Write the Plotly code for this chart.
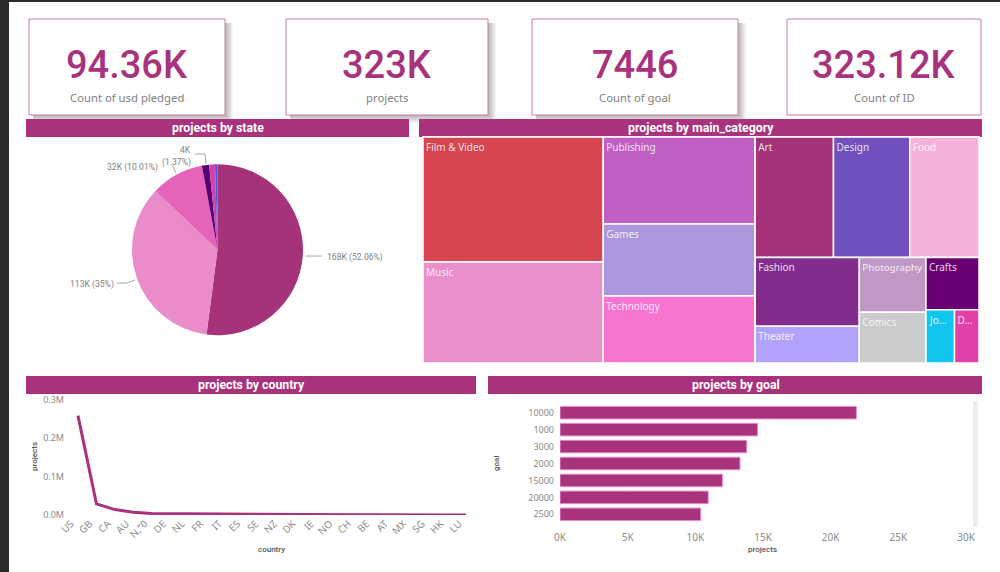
import plotly.graph_objects as go

W, H = 1000, 572
ACCENT = "#a8327c"
GREY = "#7f7f7f"

# ---------- data ----------
card_values = ["94.36K", "323K", "7446", "323.12K"]
card_labels = ["Count of usd pledged", "projects", "Count of goal", "Count of ID"]

states = ["failed", "successful", "canceled", "live", "undefined", "suspended"]
state_values = [168.2, 113.085, 32.34, 4.43, 3.55, 1.5]
state_colors = ["#a63379", "#e98cc9", "#e563b9", "#5a0073", "#d040b0", "#3f5fd0"]

# Treemap: the grouping nodes only fix the arrangement of the tiles
categories = ["Film & Video", "Music", "Publishing", "Games", "Technology", "Art", "Design", "Food",
              "Fashion", "Theater", "Photography", "Comics", "Crafts", "Journalism", "Dance"]
category_parents = ["c1", "c1", "c2", "c2", "c2", "r1", "r1", "r1",
                    "s1", "s1", "s2", "s2", "s3", "p1", "p1"]
category_values = [22375, 18079, 13137, 10872, 10117, 9360, 9120, 8280,
                   7107, 3811, 3630, 3366, 2756, 1512, 1296]
category_text = ["Film & Video", "Music", "Publishing", "Games", "Technology", "Art", "Design", "Food",
                 "Fashion", "Theater", "Photography", "Comics", "Crafts", "Jo...", "D..."]
category_colors = ["#d64550", "#ea8fcb", "#bf5fc4", "#ad97dc", "#f774d0", "#a63379", "#7150bf", "#f4b2da",
                   "#822d8e", "#b3a2fc", "#c197c5", "#cbcbcb", "#690073", "#11c5f0", "#e040a8"]
group_ids = ["c1", "c2", "c3", "r1", "r2", "s1", "s2", "s3", "p1"]
group_parents = ["", "", "", "c3", "c3", "r2", "r2", "r2", "s3"]

countries = ["US", "GB", "CA", "AU", 'N,"0', "DE", "NL", "FR", "IT", "ES", "SE", "NZ", "DK", "IE",
             "NO", "CH", "BE", "AT", "MX", "SG", "HK", "LU"]
country_values = [258000, 29000, 14000, 7200, 3800, 3400, 2400, 2300, 2200, 1900, 1500, 1200, 1000,
                  700, 600, 600, 600, 500, 500, 500, 500, 100]

goals = ["10000", "1000", "3000", "2000", "15000", "20000", "2500"]
goal_values = [21900, 14600, 13800, 13300, 12000, 10950, 10400]

# ---------- layout helpers ----------
def fx(p): return p / W
def fy(p): return 1 - p / H

def rect(x0, y0, x1, y1, fill, line=None, width=0):
    return dict(type="rect", xref="paper", yref="paper", x0=fx(x0), x1=fx(x1), y0=fy(y1), y1=fy(y0),
                fillcolor=fill, line=dict(color=line or fill, width=width), layer="below")

def text(x, y, s, size, color, family="Noto Sans", anchor="center", angle=0, weight=None):
    f = dict(size=size, color=color, family=family)
    if weight:
        f["weight"] = weight
    return dict(xref="paper", yref="paper", x=fx(x), y=fy(y), text=s, showarrow=False, xanchor=anchor,
                yanchor="middle", textangle=angle, font=f)

def leader(points):
    path = "M " + " L ".join(f"{fx(a):.4f},{fy(b):.4f}" for a, b in points)
    return dict(type="path", xref="paper", yref="paper", path=path, line=dict(color="#a9a9a9", width=1))

shapes, notes = [], []

# window frame
shapes += [rect(0, 0, 9, H, "#2b2b2b"), rect(0, 0, W, 2, "#2b2b2b")]

# KPI cards
cards = [(29, 225, True), (286, 488, True), (532, 738, True), (787, 981, False)]
for (x0, x1, shadow), val, lab in zip(cards, card_values, card_labels):
    if shadow:
        for off in range(1, 9):
            shapes.append(rect(x0 + 4, 23, x1 + off, 115 + off, "rgba(70,70,70,0.055)"))
    shapes.append(rect(x0, 19, x1, 115, "white", "#c77ba8", 1))
    notes.append(text((x0 + x1) / 2, 65, val, 38, ACCENT, "Roboto", weight=500))
    notes.append(text((x0 + x1) / 2, 97, lab, 11.3, GREY))

# panel headers
headers = [(26, 409, 119, 137, "projects by state"), (419, 982, 119, 137, "projects by main_category"),
           (26, 476, 376, 394, "projects by country"), (488, 982, 376, 394, "projects by goal")]
for x0, x1, y0, y1, t in headers:
    shapes.append(rect(x0, y0, x1, y1, ACCENT))
    notes.append(text((x0 + x1) / 2 + 0.5, (y0 + y1) / 2 - 0.5, f"<b>{t}</b>", 12.3, "white", "Roboto"))

# pie labels
total = sum(state_values)
def lab(i):
    pct = state_values[i] / total * 100
    return f"{state_values[i]:.0f}K", f"{pct:.2f}".rstrip("0").rstrip(".")
PIE_FONT = "Roboto"
PIE_SIZE = 8.6
v, p = lab(0); notes.append(text(325, 257, f"{v} ({p}%)", PIE_SIZE, GREY, PIE_FONT, anchor="left"))
v, p = lab(1); notes.append(text(116, 284, f"{v} ({p}%)", PIE_SIZE, GREY, PIE_FONT, anchor="right"))
v, p = lab(2); notes.append(text(160, 167, f"{v} ({p}%)", PIE_SIZE, GREY, PIE_FONT, anchor="right"))
v, p = lab(3)
notes.append(text(193, 150, v, PIE_SIZE, GREY, PIE_FONT, anchor="right"))
notes.append(text(193, 162, f"({p}%)", PIE_SIZE, GREY, PIE_FONT, anchor="right"))
shapes += [leader([(305, 256), (322, 256)]),
           leader([(135, 280), (127, 283), (117, 283)]),
           leader([(176, 173), (172, 165)]),
           leader([(206, 164), (205, 154), (195, 154)])]

# axis titles
notes += [text(34, 457, "projects", 8, "#555555", "Roboto", angle=-90, weight=500),
          text(271, 549, "country", 8, "#555555", "Roboto", weight=500),
          text(496, 464, "goal", 8, "#555555", "Roboto", angle=-90, weight=500),
          text(762, 549, "projects", 8, "#555555", "Roboto", weight=500)]

# scrollbar on the bar chart
shapes.append(rect(973, 401, 978, 527, "#eeeeee"))

fig = go.Figure()

fig.add_trace(go.Pie(
    labels=states, values=state_values, sort=False, direction="clockwise", rotation=0,
    marker=dict(colors=state_colors, line=dict(width=0)), textinfo="none", hoverinfo="label+value+percent",
    domain=dict(x=[fx(132), fx(303)], y=[fy(335.5), fy(164)]), showlegend=False))

fig.add_trace(go.Treemap(
    ids=categories + group_ids, labels=categories + group_ids, parents=category_parents + group_parents,
    values=category_values + [0] * len(group_ids), text=category_text + [""] * len(group_ids),
    branchvalues="remainder", texttemplate="%{text}", textposition="top left", sort=False,
    textfont=dict(size=10, color="rgba(255,255,255,0.85)", family="Noto Sans"),
    marker=dict(colors=category_colors + ["white"] * len(group_ids), line=dict(color="white", width=1.5),
                pad=dict(t=0, l=0, r=0, b=0)),
    tiling=dict(packing="slice-dice", pad=0), pathbar=dict(visible=False), maxdepth=-1,
    domain=dict(x=[fx(423), fx(979)], y=[fy(363), fy(137)])))

fig.add_trace(go.Scatter(x=countries, y=country_values, mode="lines",
                         line=dict(color=ACCENT, width=3), xaxis="x", yaxis="y", showlegend=False))
fig.add_trace(go.Bar(x=goal_values, y=goals, orientation="h", xaxis="x2", yaxis="y2", showlegend=False,
                     marker=dict(color=ACCENT, line=dict(color="#e58ed0", width=1))))

tick = dict(size=9, color="#8a8a8a", family="Noto Sans")
xtick = dict(size=10, color="#8a8a8a", family="Noto Sans")
fig.update_layout(
    width=W, height=H, autosize=False, margin=dict(l=0, r=0, t=0, b=0),
    paper_bgcolor="white", plot_bgcolor="rgba(0,0,0,0)", shapes=shapes, annotations=notes, bargap=0.26,
    xaxis=dict(domain=[fx(68), fx(476)], anchor="y", type="category", range=[-0.54, 21.54], tickangle=-45,
               tickfont=xtick, showgrid=False, zeroline=False, ticks="", showline=False, automargin=False,
               ticklabelshift=-7),
    yaxis=dict(domain=[fy(515), fy(399.5)], anchor="x", range=[0, 300000], tickvals=[0, 100000, 200000, 300000],
               ticktext=["0.0M", "0.1M", "0.2M", "0.3M"], tickfont=tick, showgrid=True, gridcolor="#fafafa",
               griddash="dot", zeroline=False, automargin=False, ticklabelstandoff=3),
    xaxis2=dict(domain=[fx(560), fx(966)], anchor="y2", range=[0, 30000],
                tickvals=[0, 5000, 10000, 15000, 20000, 25000, 30000],
                ticktext=["0K", "5K", "10K", "15K", "20K", "25K", "30K"], tickfont=xtick, showgrid=True,
                gridcolor="#fafafa", griddash="dot", zeroline=False, automargin=False, ticklabelstandoff=7),
    yaxis2=dict(domain=[fy(522.8), fy(404.2)], anchor="x2", type="category", categoryorder="array",
                categoryarray=goals, autorange="reversed", tickfont=tick, showgrid=False, zeroline=False,
                ticks="", automargin=False, ticklabelstandoff=5),
)
fig.write_html("out.html", config=dict(displayModeBar=False),
               post_script="document.body.style.margin='0';document.body.style.overflow='hidden';")
